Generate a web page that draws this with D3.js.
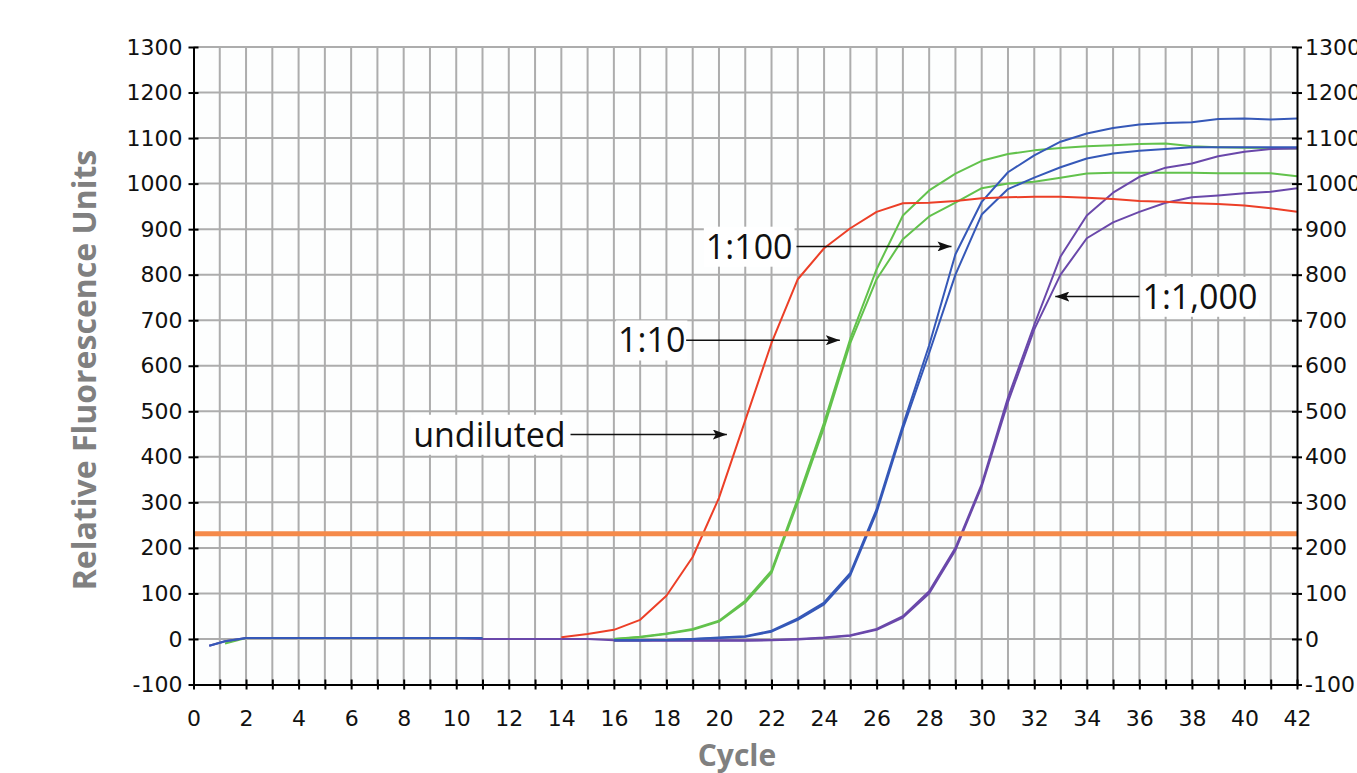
<!DOCTYPE html>
<html>
<head>
<meta charset="utf-8">
<script src="https://cdn.jsdelivr.net/npm/d3@7/dist/d3.min.js"></script>
<style>
  body { margin: 0; background: #fff; }
</style>
</head>
<body>
<svg id="chart" width="1357" height="773"></svg>
<script>
// cycle numbers of the readings (first two are the early sub-cycle readings)
const cycles = [0.6, 1.2, 2, 3, 4, 5, 6, 7, 8, 9, 10, 11, 12, 13, 14, 15, 16, 17, 18, 19, 20, 21,
  22, 23, 24, 25, 26, 27, 28, 29, 30, 31, 32, 33, 34, 35, 36, 37, 38, 39, 40, 41, 42];

// relative fluorescence units, one value per cycle above (null = not shown)
const undiluted = [null, null, null, null, null, null, null, null, null, null, null, null, null, null,
  4, 11, 20, 42, 95, 180, 310, 480, 650, 790, 858, 902, 938, 957, 958, 962, 968, 970, 971, 971,
  969, 966, 962, 960, 957, 955, 952, 946, 938];

const dil10a = [null, -10, 2, 2, 2, 2, 2, 2, 2, 2, 2, 2, null, null, null, null,
  0, 5, 12, 22, 40, 84, 150, 308, 475, 660, 812, 930, 985, 1022, 1050, 1065, 1073, 1078, 1082,
  1084, 1087, 1088, 1082, 1080, 1079, 1078, 1077];

const dil10b = [null, null, null, null, null, null, null, null, null, null, null, null, null, null, null, null,
  0, 4, 11, 20, 38, 80, 145, 300, 465, 650, 790, 878, 928, 958, 990, 1000, 1004, 1013, 1022,
  1024, 1024, 1024, 1024, 1023, 1023, 1023, 1016];

const dil100a = [-15, -5, 2, 2, 2, 2, 2, 2, 2, 2, 2, 2, null, null, null, null,
  -3, -3, -2, 0, 3, 6, 18, 45, 80, 145, 285, 470, 645, 845, 960, 1025, 1062, 1092, 1110,
  1122, 1130, 1133, 1135, 1142, 1143, 1141, 1143];

const dil100b = [null, null, null, null, null, null, null, null, null, null, null, null, null, null, null, null,
  -3, -3, -2, 0, 2, 5, 16, 42, 76, 140, 278, 462, 628, 800, 932, 988, 1013, 1036, 1055,
  1066, 1072, 1076, 1080, 1080, 1080, 1080, 1080];

const dil1000a = [-15, -5, 2, 2, 2, 2, 2, 2, 2, 2, 2, 0, 0, 0, 0, 0,
  -3, -3, -3, -3, -3, -3, -2, 0, 3, 8, 22, 50, 105, 200, 340, 530, 690, 840, 930,
  980, 1015, 1035, 1044, 1060, 1070, 1076, 1077];

const dil1000b = [null, null, null, null, null, null, null, null, null, null, null, null, null, null, null, null,
  -4, -4, -4, -4, -4, -4, -3, -1, 2, 7, 20, 47, 100, 195, 335, 520, 680, 800, 880,
  915, 938, 958, 970, 974, 979, 982, 990];

const threshold = 231;

const yTicks = [-100, 0, 100, 200, 300, 400, 500, 600, 700, 800, 900, 1000, 1100, 1200, 1300];
const xLabelTicks = [0, 2, 4, 6, 8, 10, 12, 14, 16, 18, 20, 22, 24, 26, 28, 30, 32, 34, 36, 38, 40, 42];

const colors = {
  red: '#ec3f27',
  green: '#62c24c',
  blue: '#3558b8',
  purple: '#6a48aa'
};

// drawing order: later ones on top
const series = [
  { values: dil10b, color: colors.green },
  { values: dil10a, color: colors.green },
  { values: dil1000b, color: colors.purple },
  { values: dil1000a, color: colors.purple },
  { values: dil100b, color: colors.blue },
  { values: dil100a, color: colors.blue },
  { values: undiluted, color: colors.red }
];

const svg = d3.select('#chart');

const x = d3.scaleLinear().domain([0, 42]).range([193.5, 1297]);
const y = d3.scaleLinear().domain([-100, 1300]).range([684.5, 47]);

// plot background
svg.append('rect')
  .attr('x', x(0)).attr('y', y(1300))
  .attr('width', x(42) - x(0)).attr('height', y(-100) - y(1300))
  .attr('fill', '#fdfefe');

// grid
const grid = svg.append('g').attr('class', 'grid')
  .attr('stroke', '#adadad').attr('stroke-width', 2);

grid.selectAll('.vline')
  .data(d3.range(1, 42))
  .enter().append('line')
  .attr('x1', d => x(d)).attr('x2', d => x(d))
  .attr('y1', y(1300)).attr('y2', y(-100));

grid.selectAll('.hline')
  .data(yTicks.slice(1))
  .enter().append('line')
  .attr('x1', x(0)).attr('x2', x(42))
  .attr('y1', d => y(d)).attr('y2', d => y(d));

// curves
const line = d3.line()
  .defined(d => d !== null)
  .x((d, i) => x(cycles[i]))
  .y(d => y(d));

svg.append('g').attr('class', 'curves')
  .selectAll('path')
  .data(series)
  .enter().append('path')
  .attr('d', s => line(s.values))
  .attr('fill', 'none')
  .attr('stroke', s => s.color)
  .attr('stroke-width', 2)
  .attr('stroke-linejoin', 'round');

// threshold line
svg.append('line')
  .attr('x1', x(0)).attr('x2', x(42))
  .attr('y1', y(threshold)).attr('y2', y(threshold))
  .attr('stroke', '#f58a4a')
  .attr('stroke-width', 5);

// axes
const plain = d => String(d);

const tickFont = g => g
  .attr('font-family', '"DejaVu Sans", Verdana, sans-serif')
  .attr('font-size', 22)
  .call(g => g.selectAll('text').attr('fill', '#111'))
  .call(g => g.selectAll('.domain').attr('stroke', '#000').attr('stroke-width', 2))
  .call(g => g.selectAll('.tick line').attr('stroke', '#000').attr('stroke-width', 2));

svg.append('g')
  .attr('transform', `translate(${x(0)},0)`)
  .call(d3.axisLeft(y).tickValues(yTicks).tickFormat(plain)
    .tickSizeInner(5).tickSizeOuter(0).tickPadding(6))
  .call(tickFont)
  .call(g => g.selectAll('.tick line').attr('x1', 5).attr('x2', -5));

svg.append('g')
  .attr('transform', `translate(${x(42)},0)`)
  .call(d3.axisRight(y).tickValues(yTicks).tickFormat(plain)
    .tickSizeInner(5).tickSizeOuter(0).tickPadding(3))
  .call(tickFont)
  .call(g => g.selectAll('.tick line').attr('x1', -5).attr('x2', 5));

svg.append('g')
  .attr('transform', `translate(0,${y(-100)})`)
  .call(d3.axisBottom(x).tickValues(d3.range(0, 43)).tickSizeInner(5).tickSizeOuter(0).tickPadding(21)
    .tickFormat(d => xLabelTicks.includes(d) ? plain(d) : ''))
  .call(tickFont)
  .call(g => g.selectAll('.tick line').attr('y1', -5).attr('y2', 5));

// axis titles
svg.append('text')
  .attr('transform', `translate(96,370) rotate(-90)`)
  .attr('text-anchor', 'middle')
  .attr('font-family', '"Open Sans", sans-serif')
  .attr('font-weight', 'bold')
  .attr('font-size', 32)
  .attr('fill', '#808080')
  .text('Relative Fluorescence Units');

svg.append('text')
  .attr('x', 737).attr('y', 766)
  .attr('text-anchor', 'middle')
  .attr('font-family', '"Open Sans", sans-serif')
  .attr('font-weight', 'bold')
  .attr('font-size', 30)
  .attr('fill', '#808080')
  .text('Cycle');

// annotations, in data units
const notes = [
  { text: 'undiluted', at: [8.36, 449], from: 14.35, to: 20.3 },
  { text: '1:10', at: [16.16, 656], from: 18.75, to: 24.6 },
  { text: '1:100', at: [19.5, 862], from: 22.95, to: 28.85 },
  { text: '1:1,000', at: [36.12, 752], from: 36.0, to: 32.8 }
];

svg.append('defs').append('marker')
  .attr('id', 'arrow')
  .attr('viewBox', '0 0 14 10')
  .attr('refX', 14).attr('refY', 5)
  .attr('markerWidth', 14).attr('markerHeight', 10)
  .attr('markerUnits', 'userSpaceOnUse')
  .attr('orient', 'auto')
  .append('path')
  .attr('d', 'M0,0L14,5L0,10L3,5Z')
  .attr('fill', '#111');

const noteG = svg.append('g').attr('class', 'notes');

notes.forEach(n => {
  const g = noteG.append('g');
  const bg = g.append('rect').attr('fill', '#fff');
  const t = g.append('text')
    .attr('x', x(n.at[0]))
    .attr('y', y(n.at[1]))
    .attr('dy', '0.36em')
    .attr('font-family', '"Open Sans", sans-serif')
    .attr('font-size', 34)
    .attr('fill', '#111')
    .text(n.text);
  const b = t.node().getBBox();
  bg.attr('x', b.x - 2).attr('y', b.y + 4)
    .attr('width', b.width + 4).attr('height', b.height - 6);
  g.append('line')
    .attr('x1', x(n.from)).attr('x2', x(n.to))
    .attr('y1', y(n.at[1])).attr('y2', y(n.at[1]))
    .attr('stroke', '#111')
    .attr('stroke-width', 1.5)
    .attr('marker-end', 'url(#arrow)');
});
</script>
</body>
</html>
